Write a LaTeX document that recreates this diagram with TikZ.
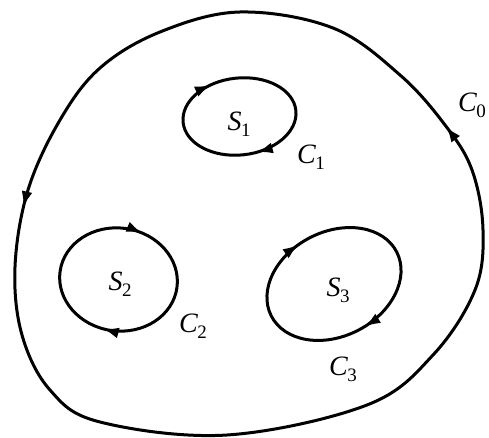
\documentclass[tikz,border=0pt]{standalone}
\usepackage{fontspec}
\setmainfont{Liberation Serif}
\usetikzlibrary{decorations.markings,arrows.meta}
\newcommand{\lbl}[2]{\textit{#1}\kern-0.5pt\raisebox{-0.45ex}{\fontsize{19}{19}\selectfont #2}}
\tikzset{
  curve/.style={line width=3pt},
  arr/.style={postaction={decorate,decoration={markings,
     mark=at position #1 with {\arrow{Latex[length=16pt,width=11pt]}}}}},
  txt/.style={font=\fontsize{28}{30}\selectfont, inner sep=0pt}
}
\begin{document}
\begin{tikzpicture}[x=1pt,y=-1pt]
\useasboundingbox (0,0) rectangle (489,438);
% outer curve C0
\draw[curve,arr=0.163,arr=0.768] plot[smooth cycle,tension=0.6] coordinates {
 (240,12) (160,32) (100,68) (60,120) (28,190) (15,267) (22,335) (50,390)
 (100,422) (227,435) (367,405) (433,355) (475,290) (483,230) (472,170)
 (445,125) (400,75) (333,28)};
% inner curves
\draw[curve,arr=0.665,arr=0.205,rotate around={6:(239.5,116.5)}] (239.5,116.5) ellipse [x radius=56.7,y radius=38.5];
\draw[curve,arr=0.80,arr=0.275,rotate around={-8:(118.5,279.5)}] (118.5,279.5) ellipse [x radius=59,y radius=51.5];
\draw[curve,arr=0.715,arr=0.23,rotate around={27:(334,284)}] (334,284) ellipse [x radius=70.4,y radius=52.2];
% labels
\node[txt] (s1) at (239,124) {\lbl{S}{1}};
\node[txt] (c1) at (311,157) {\lbl{C}{1}};
\node[txt] (s2) at (120,284) {\lbl{S}{2}};
\node[txt] (c2) at (193,326) {\lbl{C}{2}};
\node[txt] (s3) at (338,290) {\lbl{S}{3}};
\node[txt] (c3) at (343,369) {\lbl{C}{3}};
\node[txt] (c0) at (472,105) {\lbl{C}{0}};
\end{tikzpicture}
\end{document}
